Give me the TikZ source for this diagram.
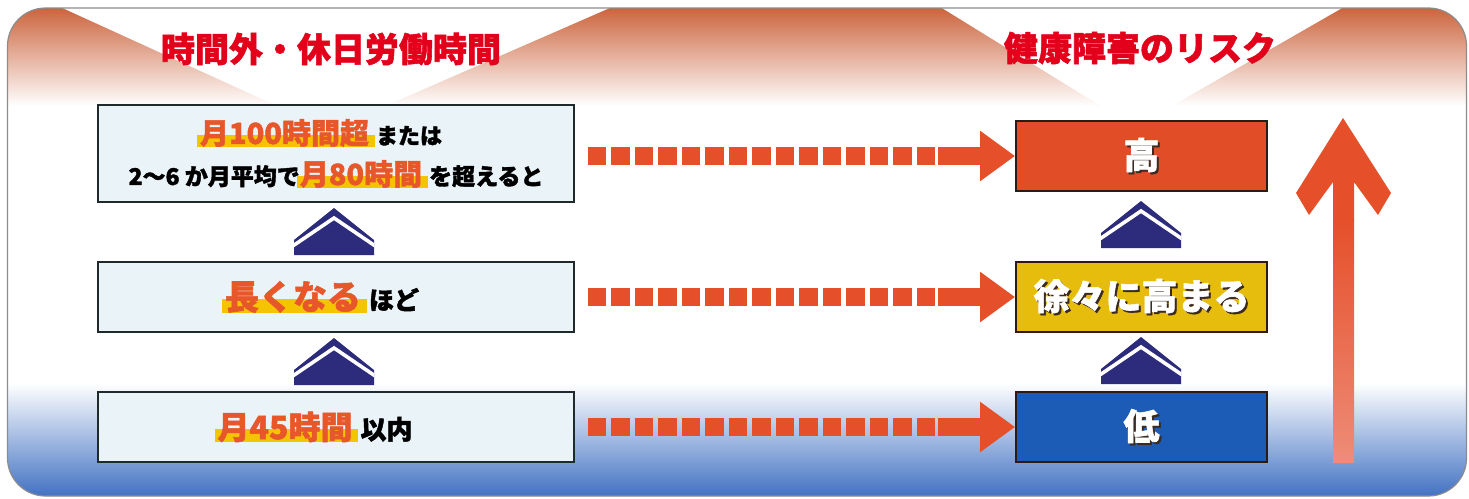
\documentclass[tikz,border=0pt]{standalone}
\usepackage{fontspec}
\setmainfont{Noto Sans CJK JP}[BoldFeatures={FakeBold=1.6}]
\usetikzlibrary{arrows.meta,calc}
\definecolor{tred}{HTML}{E3001B}
\definecolor{orng}{HTML}{E8572A}
\definecolor{hly}{HTML}{F5C400}
\definecolor{lfill}{HTML}{EAF4F8}
\definecolor{lbord}{HTML}{1F2B2B}
\definecolor{navy}{HTML}{2D2B7C}
\definecolor{rred}{HTML}{E14D27}
\definecolor{ryel}{HTML}{E6BD0C}
\definecolor{rblu}{HTML}{1C5BB6}
\definecolor{rbord}{HTML}{2A1C14}
\definecolor{arrc}{HTML}{E5502A}
\definecolor{arrlt}{HTML}{EE8C78}
\definecolor{topor}{HTML}{C8582E}
\definecolor{topmid}{HTML}{DDA07E}
\definecolor{botbl}{HTML}{3F70C2}
\definecolor{botmid}{HTML}{9CB8E0}
\definecolor{pgray}{HTML}{8C8C8C}
\definecolor{shd}{HTML}{3A2A20}
\newcommand\myhl[1]{\setbox0\hbox{#1}\leavevmode\rlap{\kern-3pt{\color{hly}\rule[-0.1em]{\dimexpr\wd0+9pt\relax}{0.42em}}}\box0}
\newcommand\shtext[1]{\leavevmode\rlap{\kern2pt\lower2pt\hbox{\color{shd}#1}}\hbox{\color{white}#1}}
\begin{document}
\begin{tikzpicture}[x=1pt,y=-1pt,
  lbox/.style={draw=lbord, line width=1.8, fill=lfill, minimum width=476, minimum height=70, inner sep=0, align=center},
  rbox/.style={draw=rbord, line width=1.8, minimum width=251, minimum height=70, inner sep=0, font=\bfseries\fontsize{36}{36}\selectfont},
  dsq/.style={draw=arrc, line width=18, dash pattern=on 18.3pt off 5.2pt},
  arrhead/.style={draw=arrc, line width=18, -{Triangle[length=35pt,width=48pt]}},
  ttl/.style={inner sep=0, text=tred, font=\bfseries\fontsize{34}{34}\selectfont},
  upchev/.pic={
    \fill[navy] (-40,0) -- (-40,-15) -- (0,-47) -- (40,-15) -- (40,0) -- cycle;
    \begin{scope}
      \clip (-40,0) -- (-40,-15) -- (0,-47) -- (40,-15) -- (40,0) -- cycle;
      \draw[white, line width=3.6] (-42,-8.5) -- (0,-37) -- (42,-8.5);
    \end{scope}
  }]
\useasboundingbox (0,0) rectangle (1469,498);
\fill[white] (0,0) rectangle (1469,498);
\begin{scope}
  \clip[rounded corners=38] (7.5,8) rectangle (1466.5,496);
  \shade[top color=topor, middle color=topmid, bottom color=white] (0,0) rectangle (1469,106);
  \fill[white] (45,0) -- (628,0) -- (330,130) -- cycle;
  \fill[white] (929,0) -- (1356,0) -- (1135,127) -- cycle;
  \shade[top color=white, middle color=botmid, bottom color=botbl] (0,383) rectangle (1469,498);
\end{scope}
\draw[pgray, line width=1.2, rounded corners=38] (7.5,8) rectangle (1466.5,496);

\node[ttl] (t1) at (331,49) {時間外・休日労働時間};
\node[ttl] (t2) at (1140,48) {健康障害のリスク};

\node[lbox, minimum height=97, font=\bfseries\fontsize{23}{41}\selectfont] (b1) at (336,153.5)
  {{\fontsize{29}{41}\selectfont\color{orng}\myhl{月100時間超}}\kern7pt{\fontsize{22}{41}\selectfont または}\kern30pt\\
   2〜6 か月平均で{\fontsize{29}{41}\selectfont\color{orng}\myhl{月80時間}}\kern7pt を超えると};
\node[lbox, font=\bfseries\fontsize{25}{25}\selectfont] (b2) at (336,297)
  {{\fontsize{34}{34}\selectfont\color{orng}\myhl{長くなる}}\kern8pt ほど\kern28pt};
\node[lbox, font=\bfseries\fontsize{26}{26}\selectfont] (b3) at (336,427)
  {{\fontsize{32}{32}\selectfont\color{orng}\myhl{月45時間}}\kern8pt 以内\kern42pt};

\node[rbox, fill=rred] (r1) at (1141.5,156) {\shtext{高}};
\node[rbox, fill=ryel] (r2) at (1141.5,297) {\shtext{徐々に高まる}};
\node[rbox, fill=rblu] (r3) at (1141.5,427) {\shtext{低}};

\pic at (334,255) {upchev};
\pic at (334,385) {upchev};
\pic at (1141,248) {upchev};
\pic at (1141,384) {upchev};

\foreach \i in {1,2,3}{
  \draw[dsq] ($(b\i.east|-r\i.west)+(13,0)$) -- ++(347.3,0);
  \draw[arrhead] ($(r\i.west)+(-77,0)$) -- (r\i.west);
}

\fill[arrc] (1343,118) -- (1391,193) -- (1378,215) -- (1354,182) -- (1354,221) -- (1333,221) -- (1333,182) -- (1309,215) -- (1296,193) -- cycle;
\shade[top color=arrc, bottom color=arrlt] (1333,220) rectangle (1354,462);
\end{tikzpicture}
\end{document}
